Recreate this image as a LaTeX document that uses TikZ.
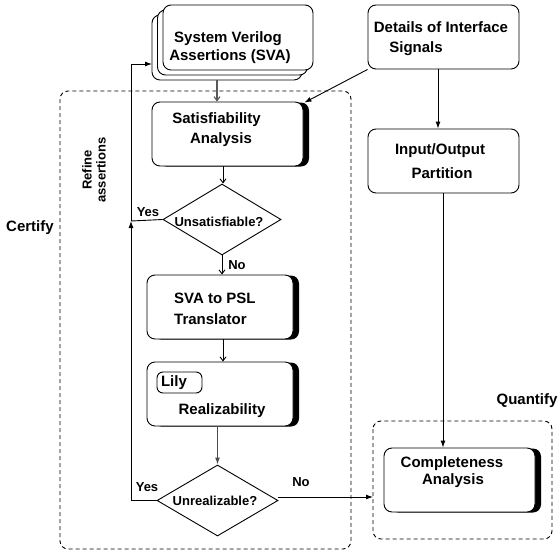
\documentclass[tikz,border=0pt]{standalone}
\usepackage{fontspec}
\setmainfont{Liberation Sans}
\usetikzlibrary{shapes.geometric,arrows.meta,shadows}
\begin{document}
\begin{tikzpicture}[x=1pt,y=-1pt,
  box/.style={draw,rounded corners=8pt,fill=white,minimum width=151pt,
    minimum height=64pt,inner sep=0pt,line width=0.9pt},
  shbox/.style={box,drop shadow={shadow xshift=6pt,shadow yshift=-0.5pt,
    fill=black,opacity=1}},
  decision/.style={draw,diamond,fill=white,inner sep=0pt,line width=0.9pt},
  frame/.style={draw,dashed,dash pattern=on 4pt off 3pt,rounded corners=8pt,line width=0.9pt},
  txt/.style={font=\bfseries\fontsize{15}{18}\selectfont,inner sep=0pt},
  small/.style={font=\bfseries\fontsize{13}{15}\selectfont,inner sep=0pt},
  conn/.style={line width=0.9pt},
  solid arrow/.style={conn,-{Latex[length=7pt,width=5pt]}},
  open arrow/.style={conn,-{Straight Barb[length=4pt,width=6pt]}},
]
\useasboundingbox (0,0) rectangle (558,552);

% dashed group frames
\draw[frame] (60,91) rectangle (351,549);
\draw[frame] (373,421) rectangle (552,539);
\node[txt] (certify) at (30,228) {Certify};
\node[txt] (quantify) at (527,401) {Quantify};
\node[small,rotate=90,align=center] (refine) at (94,170) {Refine\\[-1pt]assertions};

% stacked SVA sheets
\node[box,minimum height=65pt,minimum width=150pt] (sva3) at (227,47.5) {};
\node[box,minimum height=65pt,minimum width=150pt] (sva2) at (232.5,42.5) {};
\node[box,minimum height=65pt,minimum width=150pt] (sva) at (238,37.5) {};
\node[txt] (sva-t1) at (228,39) {System Verilog};
\node[txt] (sva-t2) at (230,57) {Assertions (SVA)};

% interface details and partition
\node[box] (det) at (443.5,37) {};
\node[txt] (det-t1) at (441,27) {Details of Interface};
\node[txt] (det-t2) at (416,49) {Signals};
\node[box] (io) at (443.5,161) {};
\node[txt] (io-t1) at (440,151) {Input/Output};
\node[txt] (io-t2) at (442,173) {Partition};

% satisfiability check
\node[shbox] (sat) at (227.5,134) {};
\node[txt] (sat-t1) at (216.5,120) {Satisfiability};
\node[txt] (sat-t2) at (221,140) {Analysis};
\node[decision,minimum width=118pt,minimum height=71pt] (unsat) at (222,219.5) {};
\node[small] (unsat-t) at (219,222) {Unsatisfiable?};

% translation
\node[shbox,minimum width=146pt] (trans) at (220,307) {};
\node[txt,anchor=west] (trans-t1) at (174,298) {SVA to PSL};
\node[txt,anchor=west] (trans-t2) at (174,319) {Translator};

% realizability with Lily
\node[shbox,minimum width=146pt] (real) at (220,394) {};
\node[draw,rounded corners=6pt,minimum width=45pt,minimum height=21pt,
  inner sep=0pt,line width=0.9pt] (lily) at (179.5,382.5) {};
\node[txt] (lily-t) at (174,383) {Lily};
\node[txt] (real-t) at (222,411) {Realizability};
\node[decision,minimum width=121pt,minimum height=71pt] (unreal) at (217.5,500.5) {};
\node[small] (unreal-t) at (215,501) {Unrealizable?};

% completeness
\node[shbox] (comp) at (459.5,480) {};
\node[txt] (comp-t1) at (452,464) {Completeness};
\node[txt] (comp-t2) at (453,481) {Analysis};

% connectors
\coordinate (svain) at (152,64);
\coordinate (join) at (131,221);
\coordinate (qin) at (373,497);
\draw[open arrow,gray!70!black,line width=1.1pt] (sva3.south -| 217,0) -- (sat.north -| 217,0);
\draw[open arrow] (sat.south -| 223,0) -- (unsat.north -| 223,0);
\draw[open arrow] (unsat.south) -- (trans.north -| unsat.south);
\draw[open arrow] (trans.south -| 223,0) -- (real.north -| 223,0);
\draw[solid arrow,gray!60!black,line width=1.3pt] (real.south -| unreal.north) -- (unreal.north);
\draw[solid arrow] (det.south west) -- ([xshift=1pt,yshift=-1pt]sat.north east);
\draw[solid arrow] (det.south -| 438,0) -- (io.north -| 438,0);
\draw[solid arrow] (io.south -| 443,0) -- (comp.north -| 443,0);
\draw[solid arrow] (unreal.west) -| (join);
\draw[conn] (unsat.west) -- (join);
\draw[solid arrow] (join) |- (svain);
\draw[solid arrow] (unreal.east |- qin) -- (qin);

% branch labels
\node[small] (yes1) at (148,212) {Yes};
\node[small] (no1) at (237,265) {No};
\node[small] (yes2) at (147,487) {Yes};
\node[small] (no2) at (301,482) {No};
\end{tikzpicture}
\end{document}
